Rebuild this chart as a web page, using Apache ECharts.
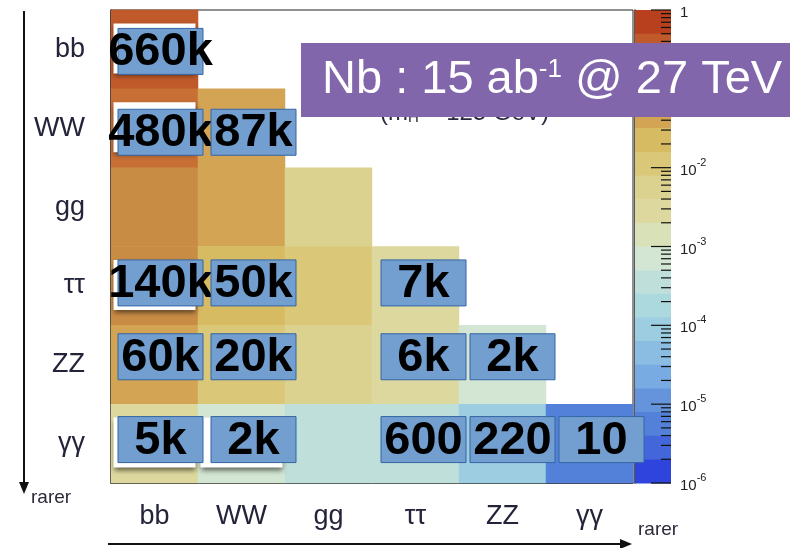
<!DOCTYPE html>
<html><head><meta charset="utf-8">
<script src="https://cdn.jsdelivr.net/npm/echarts@6/dist/echarts.min.js"></script>
<style>html,body{margin:0;padding:0;background:#fff}#c{width:790px;height:548px}</style>
</head><body><div id="c"></div>
<script>
// ---- data ----
const channels = ['bb', 'WW', 'gg', 'ττ', 'ZZ', 'γγ'];
// HH branching fraction for (column channel) x (row channel); each column lists rows from its diagonal downwards
const brColBB = [0.339, 0.249, 0.095, 0.073, 0.032, 0.00264];
const brColWW = [0.0457, 0.035, 0.0268, 0.0112, 0.00097];
const brColGG = [0.0067, 0.0103, 0.00428, 0.00037];
const brColTT = [0.00393, 0.00328, 0.000285];
const brColZZ = [0.000686, 0.000119];
const brColAA = [5.15e-6];
// expected event counts written on the cells (same layout)
const evColBB = ['660k', '480k', '', '140k', '60k', '5k'];
const evColWW = ['87k', '', '50k', '20k', '2k'];
const evColGG = ['', '', '', ''];
const evColTT = ['7k', '6k', '600'];
const evColZZ = ['2k', '220'];
const evColAA = ['10'];
// cells carrying the white text-box of the original plot
const whiteColBB = [1, 1, 0, 1, 0, 1];
const whiteColWW = [0, 0, 0, 0, 1];
// colour palette bands, top (1) to bottom (1e-6), each 0.3 decade
const bandColors = ['#b8401f', '#c05a2b', '#c76f35', '#c98c45', '#d2a453', '#d7bb62', '#dac777', '#dcd28f', '#ddd99e', '#d9e1b9',
  '#d3e6d3', '#bfe0da', '#acd9de', '#9ccde0', '#8bbde3', '#79abe3', '#6694dc', '#5380d9', '#4466db', '#2e44dc'];
const bandStep = 0.3;
const decadeExps = [0, -1, -2, -3, -4, -5, -6];
const minorMults = [2, 3, 4, 5, 6, 7, 8, 9];

// ---- layout (label-box placement relative to cell centre, per column / per row) ----
const boxShiftX = [6, 12, 0, 8, 10, 12];
const boxShiftY = [2, 4, 0, -3, -8, -4];

// ---- build ----
const brCols = [brColBB, brColWW, brColGG, brColTT, brColZZ, brColAA];
const evCols = [evColBB, evColWW, evColGG, evColTT, evColZZ, evColAA];
const whiteCols = [whiteColBB, whiteColWW];
const heat = [], labels = [], whites = [];
brCols.forEach((col, c) => col.forEach((v, i) => heat.push([c, c + i, Math.log10(v), v])));
evCols.forEach((col, c) => col.forEach((t, i) => { if (t) labels.push({ value: [c, c + i], text: t }); }));
whiteCols.forEach((col, c) => col.forEach((w, i) => { if (w) whites.push([c, c + i]); }));
const pieces = bandColors.map((col, k) => ({ gte: -(k + 1) * bandStep - 1e-9, lt: -k * bandStep + (k === 0 ? 1 : 0), color: col }));
const bands = bandColors.map((col, k) => [0.5, Math.pow(10, -(k + 0.5) * bandStep), k]);
const ticks = [];
decadeExps.forEach(e => ticks.push([1, Math.pow(10, e), 1]));
decadeExps.slice(0, 6).forEach(e => minorMults.forEach(m => ticks.push([1, m * Math.pow(10, e - 1), 0])));

const FF = 'Liberation Sans, Arial, sans-serif';
const chart = echarts.init(document.getElementById('c'));
chart.setOption({
  animation: false,
  grid: [
    { left: 111, top: 10, width: 522, height: 473, show: true, borderColor: '#222', borderWidth: 1, backgroundColor: 'transparent' },
    { left: 635, top: 10, width: 36, height: 473, show: false }
  ],
  xAxis: [
    { type: 'category', data: channels, gridIndex: 0,
      axisLine: { lineStyle: { color: '#222', width: 1.5 } },
      axisTick: { inside: true, length: 11, lineStyle: { color: '#222' } },
      axisLabel: { fontSize: 27, margin: 20, color: '#23233a', fontFamily: FF },
      splitLine: { show: false } },
    { type: 'value', gridIndex: 1, min: 0, max: 1, show: false }
  ],
  yAxis: [
    { type: 'category', data: channels, inverse: true, gridIndex: 0,
      axisLine: { lineStyle: { color: '#222', width: 1.5 } },
      axisTick: { inside: true, length: 17, lineStyle: { color: '#222' } },
      axisLabel: { fontSize: 27, margin: 26, color: '#23233a', fontFamily: FF },
      splitLine: { show: false } },
    { type: 'log', logBase: 10, gridIndex: 1, min: 1e-6, max: 1, position: 'right', splitNumber: 6,
      axisLine: { show: true, lineStyle: { color: '#222', width: 1.5 } },
      axisTick: { show: false }, splitLine: { show: false }, minorTick: { show: false },
      axisLabel: { margin: 9, color: '#222', fontFamily: FF,
        formatter: v => { const e = Math.round(Math.log10(v)); return e === 0 ? '{b|1}' : '{b|10}{s|-' + (-e) + '}'; },
        rich: { b: { fontSize: 15, padding: [6, 0, 0, 0], fontFamily: FF, color: '#222' },
                s: { fontSize: 11, verticalAlign: 'top', fontFamily: FF, color: '#222' } } } }
  ],
  visualMap: { type: 'piecewise', show: false, seriesIndex: 0, dimension: 2, pieces: pieces },
  series: [
    { type: 'heatmap', xAxisIndex: 0, yAxisIndex: 0, data: heat, z: 2, emphasis: { disabled: true }, itemStyle: { borderWidth: 0 } },
    { type: 'custom', xAxisIndex: 0, yAxisIndex: 0, z: 3, data: whites, silent: true,
      renderItem: (p, api) => {
        const c = api.coord([api.value(0), api.value(1)]);
        return { type: 'rect', shape: { x: c[0] - 41, y: c[1] - 26, width: 82, height: 50 },
          style: { fill: '#fff', shadowBlur: 5, shadowOffsetY: 3, shadowColor: 'rgba(0,0,0,0.55)' } };
      } },
    { type: 'custom', xAxisIndex: 0, yAxisIndex: 0, z: 4, data: labels, silent: true,
      renderItem: (p, api) => {
        const xi = api.value(0), yi = api.value(1);
        const c = api.coord([xi, yi]);
        const cx = c[0] + boxShiftX[xi], cy = c[1] + boxShiftY[yi];
        return { type: 'group', children: [
          { type: 'rect', shape: { x: cx - 42.5, y: cy - 23, width: 85, height: 46 },
            style: { fill: '#729fcf', stroke: '#3465a4', lineWidth: 1 } },
          { type: 'text', x: cx, y: cy + 1,
            style: { text: labels[p.dataIndex].text, fill: '#000', fontSize: 47, fontWeight: 'bold', fontFamily: FF, align: 'center', verticalAlign: 'middle' } }
        ] };
      } },
    { type: 'custom', xAxisIndex: 1, yAxisIndex: 1, z: 2, data: bands, silent: true,
      renderItem: (p, api) => {
        const k = api.value(2);
        const a = api.coord([0, Math.pow(10, -k * bandStep)]);
        const b = api.coord([1, Math.pow(10, -(k + 1) * bandStep)]);
        return { type: 'rect', shape: { x: a[0], y: a[1], width: b[0] - a[0], height: b[1] - a[1] + 0.5 },
          style: { fill: bandColors[k] } };
      } },
    { type: 'custom', xAxisIndex: 1, yAxisIndex: 1, z: 3, data: ticks, silent: true,
      renderItem: (p, api) => {
        const q = api.coord([api.value(0), api.value(1)]);
        const len = api.value(2) ? 20 : 10;
        return { type: 'line', shape: { x1: q[0] - len, y1: q[1], x2: q[0], y2: q[1] },
          style: { stroke: '#111', lineWidth: 1.2 } };
      } }
  ],
  graphic: [
    { type: 'line', shape: { x1: 24, y1: 11, x2: 24, y2: 485 }, style: { stroke: '#111', lineWidth: 2 } },
    { type: 'polygon', shape: { points: [[19, 482], [29, 482], [24, 494]] }, style: { fill: '#111' } },
    { type: 'text', x: 31, y: 498, style: { text: 'rarer', fontSize: 19, fontFamily: FF, fill: '#2a2a3a', verticalAlign: 'middle' } },
    { type: 'line', shape: { x1: 108, y1: 544, x2: 622, y2: 544 }, style: { stroke: '#111', lineWidth: 2 } },
    { type: 'polygon', shape: { points: [[620, 539], [620, 549], [632, 544]] }, style: { fill: '#111' } },
    { type: 'text', x: 638, y: 530, style: { text: 'rarer', fontSize: 19, fontFamily: FF, fill: '#2a2a3a', verticalAlign: 'middle' } },
    { type: 'text', x: 380, y: 113, z: 50,
      style: { text: '(m{h|H} = 125 GeV)', fontSize: 24, fontFamily: FF, fill: '#2a2a40', verticalAlign: 'middle',
        rich: { h: { fontSize: 15, verticalAlign: 'bottom', fontFamily: FF, fill: '#2a2a40' } } } },
    { type: 'rect', z: 60, shape: { x: 301, y: 43, width: 489, height: 74 }, style: { fill: '#8166ab' } },
    { type: 'text', z: 61, x: 322, y: 80,
      style: { text: '{a|Nb : 15 ab}{s|-1}{a| @ 27 TeV}', fill: '#fff', verticalAlign: 'middle',
        rich: { a: { fontSize: 47, fontFamily: FF, fill: '#fff' }, s: { fontSize: 26, verticalAlign: 'top', fontFamily: FF, fill: '#fff' } } } }
  ]
});
</script></body></html>
